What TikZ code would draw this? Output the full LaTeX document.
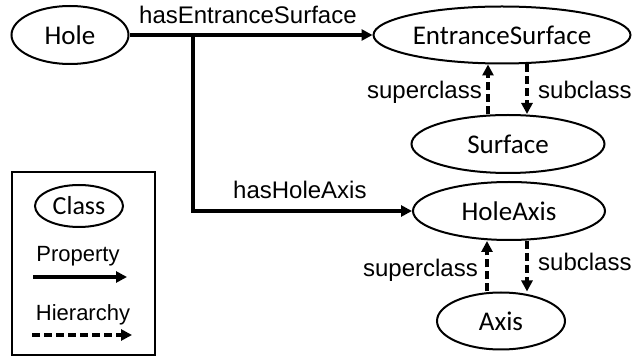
\documentclass[tikz,border=0pt]{standalone}
\usepackage{fontspec}
\setmainfont{Liberation Sans}
\newfontfamily\clsfont{Carlito}
\usetikzlibrary{shapes.geometric,arrows.meta,calc}
\begin{document}
\begin{tikzpicture}[x=1pt,y=-1pt,
  cls/.style={ellipse,draw,line width=2pt,inner sep=0pt,font=\clsfont\fontsize{27}{30}\selectfont},
  lbl/.style={inner sep=0pt,font=\fontsize{24}{28}\selectfont},
  prop/.style={line width=3.3pt,-{Triangle[length=11pt,width=11pt]}},
  hier/.style={line width=3.3pt,dash pattern=on 8pt off 4pt,-{Triangle[length=11pt,width=11pt]}}]
\useasboundingbox (0,0) rectangle (633,358);
% classes
\node[cls,minimum width=117pt,minimum height=58pt] (hole) at (70,35) {Hole};
\node[cls,minimum width=257pt,minimum height=57pt] (es) at (502,35) {EntranceSurface};
\node[cls,minimum width=193pt,minimum height=58pt] (surf) at (508,144) {Surface};
\node[cls,minimum width=192pt,minimum height=58pt] (ha) at (509,211) {HoleAxis};
\node[cls,minimum width=128pt,minimum height=57pt] (axis) at (501,321) {Axis};
% properties
\coordinate (br) at (193,35);
\draw[prop] (hole.east) -- (es.west);
\draw[line width=3.3pt] (br) -- (br|-ha.west);
\draw[prop] (br|-ha.west) ++(-1.65,0) -- (ha.west);
\node[lbl,anchor=west] (l1) at (139,15) {hasEntranceSurface};
\node[lbl,anchor=west] (l2) at (233,190) {hasHoleAxis};
% hierarchy
\coordinate (u1) at (488,0);
\coordinate (d1) at (527,0);
\draw[hier] (surf.north-|u1) -- (es.south-|u1);
\draw[hier] (es.south-|d1) -- (surf.north-|d1);
\node[lbl,anchor=east] (s1) at (482,92) {superclass};
\node[lbl,anchor=west] (b1) at (538,90) {subclass};
\coordinate (u2) at (487,0);
\coordinate (d2) at (527,0);
\draw[hier] (axis.north-|u2) -- (ha.south-|u2);
\draw[hier] (ha.south-|d2) -- (axis.north-|d2);
\node[lbl,anchor=east] (s2) at (478,270) {superclass};
\node[lbl,anchor=west] (b2) at (538,262) {subclass};
% legend
\node[draw,line width=2pt,minimum width=143pt,minimum height=183pt,inner sep=0pt] (legend) at (83.5,263.5) {};
\node[cls,minimum width=88pt,minimum height=42pt,font=\clsfont\fontsize{26}{30}\selectfont] (lc) at (79,206) {Class};
\node[lbl,font=\fontsize{22}{26}\selectfont] (lp) at (78,256) {Property};
\node[lbl,font=\fontsize{22}{26}\selectfont] (lh) at (83,315) {Hierarchy};
\coordinate (pa) at (33,277);
\coordinate (pb) at (127,277);
\coordinate (ha1) at (32,335);
\coordinate (hb1) at (132,335);
\draw[prop] (pa) -- (pb);
\draw[hier] (ha1) -- (hb1);
\end{tikzpicture}
\end{document}
